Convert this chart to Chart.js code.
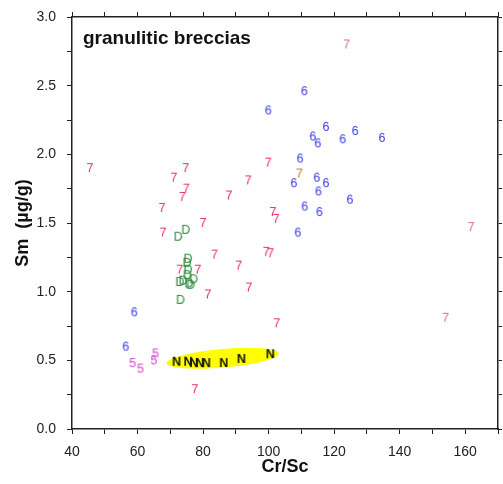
<!DOCTYPE html>
<html>
<head>
<meta charset="utf-8">
<script src="https://cdn.jsdelivr.net/npm/chart.js@4"></script>
<style>
  body { margin: 0; background: #fff; }
  #chart { display: block; }
</style>
</head>
<body>
<canvas id="chart" width="503" height="484"></canvas>
<script>
// Cr/Sc vs Sm, granulitic breccias
const sevens = [[45.5,1.90],[71.1,1.83],[74.7,1.90],[74.9,1.75],[73.7,1.69],[67.5,1.61],[87.9,1.70],
  [93.8,1.81],[99.9,1.94],[67.8,1.43],[80.0,1.50],[83.5,1.27],[90.9,1.19],[94.0,1.03],[81.5,0.98],
  [72.9,1.16],[78.4,1.16],[77.5,0.29],[99.3,1.29],[100.6,1.28],[102.5,0.77],[101.3,1.58],[102.3,1.53]];
const sevensPale = [[123.8,2.80],[161.8,1.47],[154.0,0.81]];
const sevensOrange = [[109.4,1.86]];
const sixes = [[99.9,2.32],[110.9,2.46],[117.5,2.20],[113.5,2.13],[115.0,2.08],[122.6,2.11],[126.4,2.17],
  [134.6,2.12],[109.6,1.97],[107.7,1.79],[114.7,1.83],[117.5,1.79],[115.2,1.73],[124.8,1.67],
  [111.0,1.62],[115.5,1.58],[108.9,1.43],[59.0,0.85],[56.4,0.60]];
const dees = [[72.4,1.40],[74.7,1.45],[75.4,1.24],[75.1,1.21],[75.4,1.16],[75.2,1.12],[73.9,1.08],
  [72.9,1.07],[75.7,1.06],[77.1,1.09],[76.2,1.05],[73.1,0.94]];
const fives = [[58.5,0.48],[60.9,0.44],[65.0,0.50],[65.5,0.55]];
const ens = [[71.9,0.49],[75.4,0.49],[77.2,0.48],[79.0,0.48],[81.0,0.48],[86.3,0.48],[91.7,0.51],[100.5,0.545]];

// yellow band behind the N points (centre, radii in data units, tilt in degrees)
const bandCenter = [86.0, 0.515];
const bandRadii = [17.2, 0.068];
const bandTilt = -5;

const xRange = [40, 170];
const yRange = [0, 3.0];

const FONT = '"Liberation Sans", Arial, sans-serif';

// small canvas with one character, used as point style
function glyph(ch, color, bold) {
  const c = document.createElement('canvas');
  c.width = 16; c.height = 16;
  const g = c.getContext('2d');
  g.fillStyle = color;
  g.font = (bold ? 'bold ' : '') + '12.5px ' + FONT;
  g.textAlign = 'center';
  g.textBaseline = 'middle';
  g.fillText(ch, 8, 8.5);
  return c;
}

function toPts(arr) { return arr.map(p => ({ x: p[0], y: p[1] })); }

function series(label, arr, ch, color, bold) {
  return { label, data: toPts(arr), pointStyle: glyph(ch, color, bold), pointRadius: 8, showLine: false };
}

// fixed box sizes so the plot area sits where the reference has it
function fixBox(w, h) {
  return s => {
    if (w !== null) s.width = w;
    if (h !== null) s.height = h;
    s.paddingTop = s.paddingBottom = s.paddingLeft = s.paddingRight = 0;
  };
}

const bandPlugin = {
  id: 'band',
  beforeDatasetsDraw(chart) {
    const { ctx, scales: { x, y } } = chart;
    const cx = x.getPixelForValue(bandCenter[0]);
    const cy = y.getPixelForValue(bandCenter[1]);
    const rx = x.getPixelForValue(bandCenter[0] + bandRadii[0]) - cx;
    const ry = cy - y.getPixelForValue(bandCenter[1] + bandRadii[1]);
    ctx.save();
    ctx.fillStyle = '#ffff00';
    ctx.beginPath();
    ctx.ellipse(cx, cy, rx, ry, bandTilt * Math.PI / 180, 0, 2 * Math.PI);
    ctx.fill();
    ctx.restore();
  }
};

const labelPlugin = {
  id: 'label',
  afterDraw(chart) {
    const { ctx, chartArea } = chart;
    ctx.save();
    ctx.fillStyle = '#111';
    ctx.font = 'bold 19px ' + FONT;
    ctx.textBaseline = 'middle';
    ctx.fillText('granulitic breccias', chartArea.left + 11, chartArea.top + 22);
    ctx.restore();
  }
};

new Chart(document.getElementById('chart'), {
  type: 'scatter',
  data: {
    datasets: [
      series('7', sevens, '7', '#e8305c'),
      series('7 pale', sevensPale, '7', '#d8708a'),
      series('7 orange', sevensOrange, '7', '#c8782c'),
      series('6', sixes, '6', '#3a3ae8'),
      series('D', dees, 'D', '#2e8a3c'),
      series('5', fives, '5', '#d048d0'),
      series('N', ens, 'N', '#111', true)
    ]
  },
  plugins: [bandPlugin, labelPlugin],
  options: {
    responsive: false,
    animation: false,
    layout: { padding: 0, autoPadding: false },
    plugins: { legend: { display: false }, tooltip: { enabled: false } },
    scales: {
      x: {
        type: 'linear', position: 'bottom', min: xRange[0], max: xRange[1],
        afterFit: fixBox(null, 55),
        border: { display: true, color: '#222', width: 1.5 },
        grid: { display: true, drawOnChartArea: false, drawTicks: true, tickLength: 5, color: '#222' },
        ticks: { stepSize: 10, color: '#222', font: { family: FONT, size: 14 }, padding: 10,
          autoSkip: false, maxRotation: 0,
          callback: v => (v % 20 === 0 && v <= 160) ? v : '' },
        title: { display: true, text: 'Cr/Sc', color: '#111', font: { family: FONT, size: 18, weight: 'bold' }, padding: { top: 0, bottom: 6 } }
      },
      x2: {
        type: 'linear', position: 'top', min: xRange[0], max: xRange[1],
        afterFit: fixBox(null, 17),
        border: { display: true, color: '#222', width: 1.5 },
        grid: { display: true, drawOnChartArea: false, drawTicks: true, tickLength: 5, color: '#222' },
        ticks: { stepSize: 10, display: false }
      },
      y: {
        type: 'linear', position: 'left', min: yRange[0], max: yRange[1],
        afterFit: fixBox(72, null),
        border: { display: true, color: '#222', width: 1.5 },
        grid: { display: true, drawOnChartArea: false, drawTicks: true, tickLength: 5, color: '#222' },
        ticks: { stepSize: 0.25, color: '#222', font: { family: FONT, size: 14 }, padding: 11,
          autoSkip: false,
          callback: v => (Math.abs(v * 2 - Math.round(v * 2)) < 1e-6) ? v.toFixed(1) : '' },
        title: { display: true, text: 'Sm  (µg/g)', color: '#111', font: { family: FONT, size: 18, weight: 'bold' }, padding: { top: 12, bottom: 0 } }
      },
      y2: {
        type: 'linear', position: 'right', min: yRange[0], max: yRange[1],
        afterFit: fixBox(5, null),
        border: { display: true, color: '#222', width: 1.5 },
        grid: { display: true, drawOnChartArea: false, drawTicks: true, tickLength: 4, color: '#222' },
        ticks: { stepSize: 0.25, display: false }
      }
    }
  }
});
</script>
</body>
</html>
